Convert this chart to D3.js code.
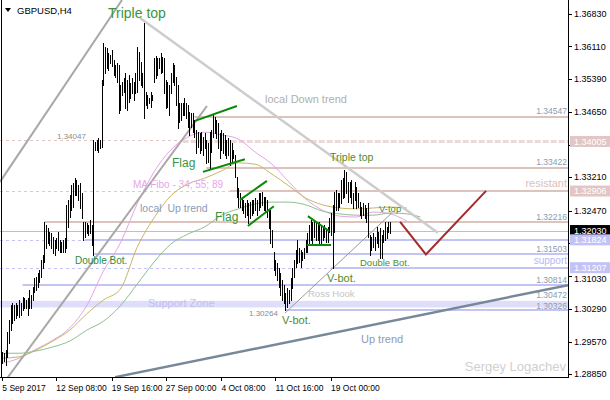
<!DOCTYPE html>
<html><head><meta charset="utf-8">
<script src="https://cdn.jsdelivr.net/npm/d3@7"></script>
<style>
html,body{margin:0;padding:0;background:#fff;}
svg{display:block;}
text{font-family:"Liberation Sans",Arial,sans-serif;}
</style></head><body>
<svg id="c" width="610" height="400"></svg>
<script>
// ---- data (GBPUSD, H4) ----
const highs=[1.2934,1.2931,1.2938,1.2978,1.3005,1.3038,1.3042,1.3038,1.3042,1.3038,1.3049,1.3042,1.3056,1.3053,1.3049,1.3053,1.3071,1.3060,1.3078,1.3098,
1.3100,1.3109,1.3115,1.3138,1.3149,1.3222,1.3215,1.3209,1.3200,1.3197,1.3189,1.3182,1.3186,1.3200,1.3182,1.3178,1.3182,1.3186,1.3260,1.3271,
1.3282,1.3304,1.3308,1.3319,1.3315,1.3304,1.3308,1.3286,1.3222,1.3222,1.3220,1.3215,1.3226,1.3215,1.3404,1.3399,1.3404,1.3408,1.3404,1.3537,
1.3619,1.3610,1.3608,1.3597,1.3592,1.3603,1.3581,1.3570,1.3574,1.3570,1.3526,1.3532,1.3541,1.3552,1.3537,1.3548,1.3530,1.3541,1.3532,1.3552,
1.3610,1.3599,1.3577,1.3552,1.3663,1.3510,1.3503,1.3497,1.3510,1.3503,1.3586,1.3590,1.3586,1.3586,1.3597,1.3588,1.3586,1.3537,1.3532,1.3526,
1.3552,1.3574,1.3570,1.3543,1.3526,1.3486,1.3486,1.3486,1.3497,1.3486,1.3481,1.3466,1.3463,1.3463,1.3448,1.3426,1.3421,1.3419,1.3421,1.3410,
1.3419,1.3404,1.3397,1.3421,1.3426,1.3459,1.3455,1.3448,1.3441,1.3419,1.3426,1.3419,1.3415,1.3404,1.3408,1.3404,1.3397,1.3382,1.3370,1.3322,
1.3297,1.3286,1.3277,1.3271,1.3264,1.3271,1.3264,1.3266,1.3271,1.3271,1.3275,1.3271,1.3286,1.3286,1.3288,1.3277,1.3277,1.3271,1.3248,1.3248,
1.3204,1.3155,1.3138,1.3131,1.3120,1.3109,1.3093,1.3082,1.3064,1.3076,1.3071,1.3098,1.3120,1.3138,1.3160,1.3182,1.3164,1.3160,1.3155,1.3164,
1.3182,1.3197,1.3215,1.3226,1.3222,1.3226,1.3222,1.3220,1.3222,1.3215,1.3211,1.3215,1.3209,1.3211,1.3231,1.3242,1.3260,1.3288,1.3293,1.3286,
1.3286,1.3315,1.3319,1.3337,1.3333,1.3311,1.3311,1.3315,1.3286,1.3311,1.3299,1.3286,1.3266,1.3255,1.3264,1.3260,1.3253,1.3264,1.3193,1.3189,
1.3197,1.3189,1.3211,1.3200,1.3209,1.3193,1.3204,1.3222,1.3211,1.3222,1.3222];
const lows=[1.2909,1.2914,1.2905,1.2923,1.2954,1.2982,1.2998,1.3005,1.3009,1.3016,1.3011,1.3016,1.3027,1.3031,1.3031,1.3016,1.3031,1.3031,1.3049,1.3067,
1.3071,1.3078,1.3089,1.3100,1.3120,1.3133,1.3164,1.3175,1.3171,1.3164,1.3153,1.3149,1.3164,1.3160,1.3155,1.3155,1.3155,1.3155,1.3164,1.3211,
1.3233,1.3248,1.3255,1.3282,1.3282,1.3271,1.3253,1.3231,1.3182,1.3189,1.3197,1.3193,1.3197,1.3171,1.3149,1.3382,1.3382,1.3377,1.3386,1.3388,
1.3526,1.3552,1.3563,1.3559,1.3574,1.3568,1.3548,1.3543,1.3532,1.3463,1.3470,1.3503,1.3510,1.3475,1.3470,1.3488,1.3497,1.3508,1.3492,1.3508,
1.3510,1.3537,1.3526,1.3521,1.3452,1.3481,1.3475,1.3486,1.3477,1.3492,1.3532,1.3541,1.3548,1.3563,1.3552,1.3554,1.3508,1.3475,1.3477,1.3459,
1.3508,1.3532,1.3526,1.3481,1.3430,1.3444,1.3448,1.3459,1.3459,1.3452,1.3433,1.3415,1.3433,1.3421,1.3410,1.3375,1.3388,1.3375,1.3382,1.3370,
1.3386,1.3353,1.3355,1.3342,1.3377,1.3410,1.3419,1.3408,1.3386,1.3364,1.3382,1.3375,1.3370,1.3364,1.3370,1.3348,1.3355,1.3364,1.3322,1.3277,
1.3255,1.3255,1.3248,1.3242,1.3233,1.3237,1.3220,1.3231,1.3237,1.3242,1.3248,1.3237,1.3248,1.3255,1.3260,1.3248,1.3244,1.3233,1.3209,1.3175,
1.3166,1.3115,1.3104,1.3093,1.3078,1.3060,1.3049,1.3042,1.30264,1.3033,1.3042,1.3049,1.3076,1.3100,1.3122,1.3131,1.3133,1.3122,1.3138,1.3142,
1.3155,1.3155,1.3175,1.3182,1.3175,1.3189,1.3182,1.3182,1.3175,1.3175,1.3182,1.3189,1.3178,1.3178,1.3200,1.3193,1.3120,1.3200,1.3248,1.3248,
1.3255,1.3264,1.3275,1.3277,1.3286,1.3266,1.3277,1.3264,1.3253,1.3271,1.3253,1.3255,1.3237,1.3231,1.3237,1.3231,1.3222,1.3189,1.3149,1.3160,
1.3166,1.3160,1.3175,1.3166,1.3142,1.3142,1.3178,1.3182,1.3186,1.3200,1.3197];

const maIndex=[0,10,20,30,40,50,60,70,80,90,100,110,120,130,140,150,160,170,180,190,200,210,220,230,240,248];
const ma34=[1.2909,1.2920,1.2940,1.2960,1.2987,1.3036,1.3113,1.3175,1.3262,1.3333,1.3382,1.3410,1.3421,1.3415,1.3406,1.3377,1.3350,1.3311,1.3273,1.3248,1.3235,1.3233,1.3244,1.3240,1.3224];
const ma55=[1.2920,1.2923,1.2938,1.2958,1.2982,1.3018,1.3049,1.3073,1.3166,1.3231,1.3280,1.3306,1.3319,1.3335,1.3353,1.3350,1.3328,1.3302,1.3275,1.3260,1.3253,1.3251,1.3253,1.3255,1.3253];
const ma89=[1.2931,1.2931,1.2936,1.2945,1.2958,1.2982,1.3002,1.3036,1.3084,1.3133,1.3173,1.3195,1.3211,1.3237,1.3251,1.3262,1.3266,1.3266,1.3260,1.3246,1.3240,1.3237,1.3237,1.3242,1.3240,1.3233];

const yTicks=[1.36830,1.36110,1.35390,1.34650,1.33930,1.33210,1.32470,1.31750,1.31030,1.30290,1.29570,1.28850];
const xTickIndex=[0,32,65,97,130,162,195];
const xTickLabels=["5 Sep 2017","12 Sep 08:00","19 Sep 16:00","27 Sep 00:00","4 Oct 08:00","11 Oct 16:00","19 Oct 00:00"];

const resistLevels=[1.34547,1.33422,1.32906,1.32216];
const resistFrom=[114,121,135,25];
const supportLevels=[1.31824,1.31503,1.31207,1.30814,1.30264];
const supportFrom=[49,54,195,12,168];
const supportZone=[1.30472,1.30326];
const fiboLevel=1.32906, fiboTo=135;
const tripleLevel=1.34005, tripleFrom=107, leftMark=1.34047;
const currentPrice=1.32030;
const rightLevelLabels=[1.34547,1.33422,1.32216,1.31503,1.30814,1.30472,1.30326];
const priceBoxes=[1.34005,1.32906,1.32030,1.31824,1.31207];
const priceBoxKind=["res","res","cur","sup","sup"];

// trend lines: [barIndex, price] pairs
const channelUpper=[[-1.36,1.3311],[71.0,1.3714]];
const localUp=[[0.4,1.2863],[121.4,1.3479]];
const downTrend=[[81.7,1.3674],[258.4,1.3198]];
const upTrend=[[66.9,1.2878],[335.6,1.3082]];
const rossLine=[[167.7,1.3020],[231.1,1.3242]];
const forecast=[[236,1.3222],[251.3,1.3150],[287,1.3291]];
const flags=[[[114.3,1.3446],[139.2,1.3479]],[[119,1.3333],[143.9,1.3361]],[[141,1.3271],[157,1.3313]],[[145.7,1.3213],[161.1,1.3257]],[[181.3,1.3235],[193.8,1.3202]],[[180.7,1.3171],[195,1.3171]]];

// ---- drawing ----
const W=568, H=377;
const svg=d3.select("#c");
const x=d3.scaleLinear().domain([0,230]).range([2.3,390]);
const y=d3.scaleLinear().domain([1.28850,1.36830]).range([374,14]);
const px=v=>Math.round(v)+0.5;

svg.append("defs").append("clipPath").attr("id","pc").append("rect").attr("x",0).attr("y",0).attr("width",W).attr("height",H);
const g=svg.append("g").attr("clip-path","url(#pc)");

// support zone
g.append("rect").attr("x",0).attr("width",W).attr("y",y(supportZone[0])).attr("height",y(supportZone[1])-y(supportZone[0])).attr("fill","#dedefa");

// dashed left parts
g.append("line").attr("x1",0).attr("x2",x(tripleFrom)).attr("y1",px(y(leftMark))).attr("y2",px(y(leftMark))).attr("stroke","#e2c4c4").attr("stroke-dasharray","3,3");
g.append("line").attr("x1",x(tripleFrom)).attr("x2",W).attr("y1",y(tripleLevel)).attr("y2",y(tripleLevel)).attr("stroke","#ecd8d8").attr("stroke-width",3).attr("stroke-dasharray","6,2");
g.append("line").attr("x1",0).attr("x2",x(fiboTo)).attr("y1",px(y(fiboLevel))).attr("y2",px(y(fiboLevel))).attr("stroke","#e8c0dc").attr("stroke-dasharray","3,3");
g.append("line").attr("x1",0).attr("x2",x(supportFrom[0])).attr("y1",px(y(supportLevels[0]))).attr("y2",px(y(supportLevels[0]))).attr("stroke","#c4c4f4").attr("stroke-dasharray","3,3");
g.append("line").attr("x1",0).attr("x2",x(supportFrom[2])).attr("y1",px(y(supportLevels[2]))).attr("y2",px(y(supportLevels[2]))).attr("stroke","#c4c4f4").attr("stroke-dasharray","3,3");

// resistance / support levels
g.selectAll(".res").data(resistLevels).join("line").attr("x1",(d,i)=>x(resistFrom[i])).attr("x2",W)
 .attr("y1",d=>Math.round(y(d))).attr("y2",d=>Math.round(y(d))).attr("stroke","#dcc4bd").attr("stroke-width",2);
g.selectAll(".sup").data(supportLevels).join("line").attr("x1",(d,i)=>x(supportFrom[i])).attr("x2",W)
 .attr("y1",d=>Math.round(y(d))).attr("y2",d=>Math.round(y(d))).attr("stroke","#c4c4f4").attr("stroke-width",2);

// current price line
g.append("line").attr("x1",0).attr("x2",W).attr("y1",px(y(currentPrice))).attr("y2",px(y(currentPrice))).attr("stroke","#c0c0c0");

// right-side level labels (last two sit on either side of the support zone band)
g.selectAll(".rl").data(rightLevelLabels).join("text").attr("x",567)
 .attr("y",(d,i)=>i===rightLevelLabels.length-1 ? y(d)+1.5 : y(d)-2.5).attr("text-anchor","end")
 .attr("font-size",8.5).attr("fill","#8c9bb0").text(d=>d.toFixed(5));

// moving averages
const maLine=d3.line().x(d=>x(d[0])).y(d=>y(d[1])).curve(d3.curveMonotoneX);
[[ma34,"#e6a4e6"],[ma55,"#c6b766"],[ma89,"#8fbf8f"]].forEach(([arr,col])=>{
  g.append("path").attr("d",maLine(d3.zip(maIndex,arr))).attr("fill","none").attr("stroke",col).attr("stroke-width",1);
});

function seg(pts,col,w,dash){
  const p=g.append("path").attr("d",d3.line().x(d=>x(d[0])).y(d=>y(d[1]))(pts)).attr("fill","none").attr("stroke",col).attr("stroke-width",w);
  if(dash)p.attr("stroke-dasharray",dash);return p;
}
seg(channelUpper,"#a8a8a8",2);
seg(localUp,"#a8a8a8",2);
seg(downTrend,"#cccccc",2.5);
seg(upTrend,"#778899",2.5);
seg(rossLine,"#9a9a9a",1);

// price bars
g.selectAll(".bar").data(highs).join("line")
 .attr("x1",(d,i)=>px(x(i))).attr("x2",(d,i)=>px(x(i)))
 .attr("y1",d=>Math.round(y(d))).attr("y2",(d,i)=>Math.round(y(lows[i]))+1)
 .attr("stroke","#000").attr("stroke-width",1).attr("shape-rendering","crispEdges");

// flags
flags.forEach(f=>seg(f,"#0a8a0a",2));
// forecast
seg(forecast,"#a52a2a",2);

// annotations
function txt(t,xx,yy,size,col,anchor){
  return svg.append("text").attr("x",xx).attr("y",yy).attr("font-size",size).attr("fill",col)
   .attr("text-anchor",anchor||"start").style("white-space","pre").text(t);
}
const GREEN="#3a9440", OLIVE="#4e8c2c";
txt("Triple top",108,18,14,GREEN);
txt("Flag",172,167,12,GREEN);
txt("Flag",215,221,12,GREEN);
txt("local Down trend",265,103,11,"#b0b0b0");
txt("local  Up trend",140,212,10.5,"#8d9bb5");
txt("MA Fibo - 34; 55; 89",133,188,10,"#e6a6e6");
txt("Double Bot.",75,264,10,"#2e8b3e");
txt("Triple top",330,161,10.5,OLIVE);
txt("V-top",379,212,9.5,OLIVE);
txt("Double Bot.",360,266,9.5,OLIVE);
txt("V-bot.",327,282,11,OLIVE);
txt("V-bot.",282,324,11,OLIVE);
txt("Ross Hook",308,297,9.5,"#c4c4c4");
txt("Support Zone",148,307,11,"#c0c0f0");
txt("support",567,264,10,"#b8b8f0","end");
txt("resistant",567,187,11,"#dcc0bc","end");
txt("Up trend",361,343,11,"#8e9bb2");
txt("Sergey Logachev",566,371,13,"#d0d0d0","end");
txt(leftMark.toFixed(5),57,139,8,"#8c8c8c");
txt(lows[168].toFixed(5),249,316,8,"#8c8c8c");

// header
svg.append("path").attr("d","M5,8 L11,8 L8,12 Z").attr("fill","#000");
txt("GBPUSD,H4",17,14,9.5,"#000");

// axes frame
svg.append("line").attr("x1",W+0.5).attr("x2",W+0.5).attr("y1",0).attr("y2",H+1).attr("stroke","#000");
svg.append("line").attr("x1",0).attr("x2",W+1).attr("y1",H+0.5).attr("y2",H+0.5).attr("stroke","#000");
svg.append("line").attr("x1",1.5).attr("x2",1.5).attr("y1",0).attr("y2",H+1).attr("stroke","#000");

// y ticks (labels hidden behind / nudged away from price boxes, as the terminal does)
const boxY=priceBoxes.map(p=>y(p));
const yt=svg.append("g");
yTicks.forEach(t=>{
  let ty=y(t);
  yt.append("line").attr("x1",W).attr("x2",W+4).attr("y1",px(ty)).attr("y2",px(ty)).attr("stroke","#000");
  let hide=false;
  boxY.forEach(b=>{const d=ty-b; if(Math.abs(d)<6) hide=true; else if(Math.abs(d)<11.5) ty=b+Math.sign(d)*11.5;});
  if(hide) return;
  yt.append("text").attr("x",W+6).attr("y",ty).attr("dy","0.35em").attr("font-size",9).attr("fill","#000").text(t.toFixed(5));
});
// x ticks
xTickIndex.forEach((t,i)=>{
  svg.append("line").attr("x1",px(x(t))).attr("x2",px(x(t))).attr("y1",H).attr("y2",H+4).attr("stroke","#000");
  svg.append("text").attr("x",x(t)).attr("y",391).attr("font-size",8.5).attr("fill","#000").text(xTickLabels[i]);
});
// price boxes
const boxCol={res:"#e2c6c6",sup:"#c2c2f6",cur:"#000"};
priceBoxes.forEach((p,i)=>{
  const yy=y(p);
  svg.append("rect").attr("x",W+2).attr("y",yy-5.5).attr("width",42).attr("height",11).attr("fill",boxCol[priceBoxKind[i]]);
  svg.append("text").attr("x",W+6).attr("y",yy).attr("dy","0.35em").attr("font-size",9).attr("fill","#fff").text(p.toFixed(5));
});
</script>
</body></html>
